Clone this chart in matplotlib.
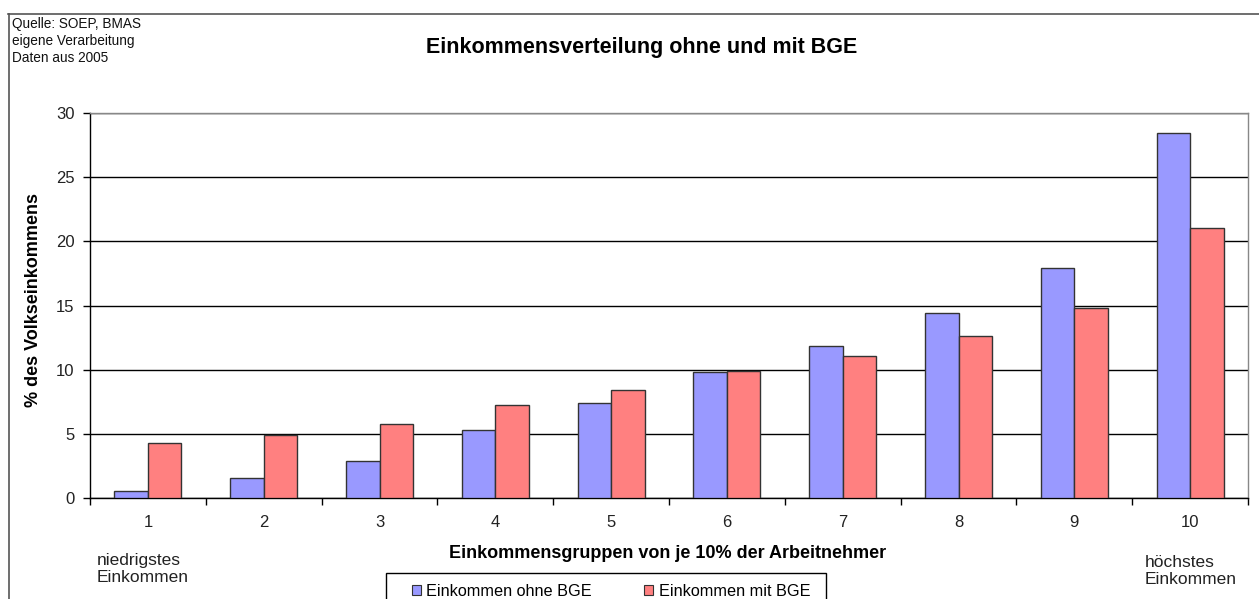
import matplotlib
matplotlib.use("Agg")
import matplotlib.pyplot as plt
from matplotlib.patches import Rectangle, Patch
from matplotlib.lines import Line2D
import numpy as np

plt.rcParams['font.family'] = ['Liberation Sans', 'DejaVu Sans']

categories = ["1", "2", "3", "4", "5", "6", "7", "8", "9", "10"]
ohne_bge = [0.51, 1.56, 2.91, 5.30, 7.40, 9.82, 11.82, 14.42, 17.92, 28.45]
mit_bge = [4.25, 4.93, 5.74, 7.22, 8.44, 9.92, 11.04, 12.60, 14.80, 21.04]
yticks = [0, 5, 10, 15, 20, 25, 30]
series_names = ["Einkommen ohne BGE", "Einkommen mit BGE"]

W, H = 1259, 599
fig = plt.figure(figsize=(W / 100, H / 100), dpi=100)
fig.patch.set_facecolor("white")

ax = fig.add_axes([90 / W, 1 - 498 / H, (1248 - 90) / W, (498 - 113) / H])

x = np.arange(1, len(categories) + 1)
bw = 0.29
c_blue = "#9999FF"
c_red = "#FF8080"
ax.bar(x - bw / 2, ohne_bge, width=bw, color=c_blue, edgecolor="#333333", linewidth=1, zorder=3)
ax.bar(x + bw / 2, mit_bge, width=bw, color=c_red, edgecolor="#333333", linewidth=1, zorder=3)

ax.set_xlim(0.5, len(categories) + 0.5)
ax.set_ylim(0, 30)
ax.set_yticks(yticks)
ax.yaxis.grid(True, color="#000000", linewidth=1, zorder=0)
ax.set_axisbelow(True)

# x ticks at category boundaries, labels centered
ax.set_xticks(np.arange(0.5, len(categories) + 1, 1.0))
ax.set_xticklabels([])
ax.set_xticks(x, minor=True)
ax.set_xticklabels(categories, minor=True)
ax.tick_params(axis="x", which="major", direction="out", length=5, width=1, color="black")
ax.tick_params(axis="x", which="minor", length=0, pad=12, labelsize=12, labelcolor="#222222")
ax.tick_params(axis="y", direction="out", length=5, width=1, pad=6, labelsize=12, labelcolor="#222222")

for s in ["top", "right"]:
    ax.spines[s].set_color("#888888")
    ax.spines[s].set_linewidth(1)
for s in ["left", "bottom"]:
    ax.spines[s].set_color("black")
    ax.spines[s].set_linewidth(1)

# Outer frame (partially visible)
fig.add_artist(Line2D([8.5 / W, 8.5 / W], [0, 1 - 14 / H], transform=fig.transFigure, color="#555555", linewidth=1.2))
fig.add_artist(Line2D([8 / W, 1], [1 - 14 / H, 1 - 14 / H], transform=fig.transFigure, color="#555555", linewidth=1.2))

# Texts
fig.text(12 / W, 1 - 41 / H, "Quelle: SOEP, BMAS\neigene Verarbeitung\nDaten aus 2005",
         ha="left", va="center", fontsize=9.8, linespacing=1.25, color="#111111")
fig.text(642 / W, 1 - 47 / H, "Einkommensverteilung ohne und mit BGE",
         ha="center", va="center", fontsize=15.5, fontweight="bold")
fig.text(34 / W, 1 - 300 / H, "% des Volkseinkommens", rotation=90,
         ha="center", va="center", fontsize=13, fontweight="bold")
fig.text(668 / W, 1 - 553 / H, "Einkommensgruppen von je 10% der Arbeitnehmer",
         ha="center", va="center", fontsize=13, fontweight="bold")
fig.text(97 / W, 1 - 569 / H, "niedrigstes\nEinkommen", ha="left", va="center",
         fontsize=12.5, linespacing=1.2, color="#222222")
fig.text(1145 / W, 1 - 571 / H, "höchstes\nEinkommen", ha="left", va="center",
         fontsize=12.5, linespacing=1.2, color="#222222")

# Legend
fig.add_artist(Rectangle((386 / W, -0.05), (826 - 386) / W, 0.05 + 1 - 573 / H,
                         transform=fig.transFigure, facecolor="white", edgecolor="black", linewidth=1))
handles = [Patch(facecolor=c_blue, edgecolor="#333333", linewidth=0.8),
           Patch(facecolor=c_red, edgecolor="#333333", linewidth=0.8)]
fig.legend(handles, series_names, loc="center", bbox_to_anchor=(611 / W, 1 - 591 / H),
           ncol=2, frameon=False, fontsize=11.7, handlelength=0.55, handleheight=0.55,
           handletextpad=0.35, columnspacing=3.2, borderpad=0)

fig.savefig("out.png", dpi=100, facecolor="white")
